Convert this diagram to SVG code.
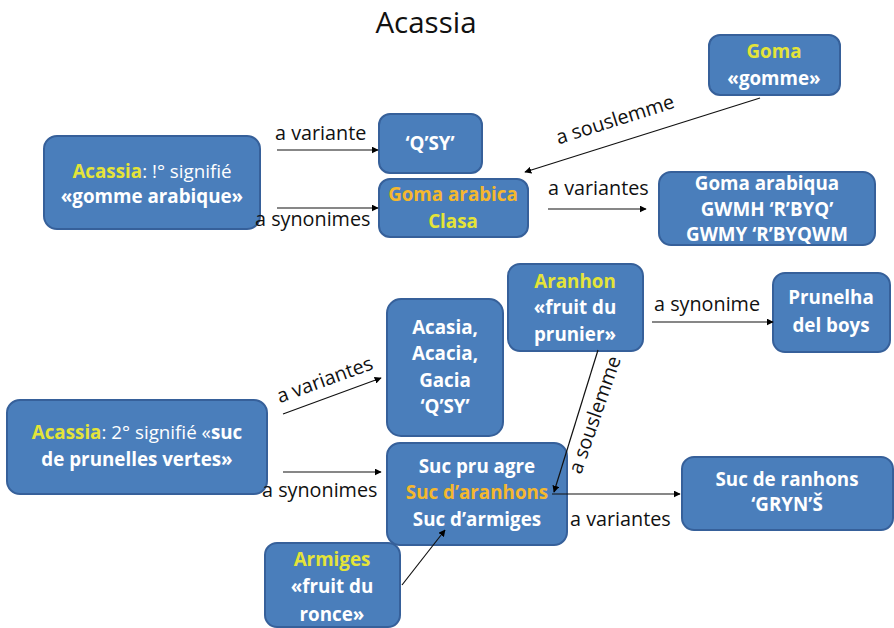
<svg xmlns="http://www.w3.org/2000/svg" width="894" height="628" viewBox="0 0 894 628">
<defs>
<marker id="ah" viewBox="0 0 10 10" refX="9" refY="5" markerWidth="7" markerHeight="7" markerUnits="userSpaceOnUse" orient="auto">
<path d="M0,0 L10,5 L0,10 z" fill="#000"/>
</marker>
</defs>
<style>
.box{fill:#4A7EBB;stroke:#36609A;stroke-width:2}
.t{font-family:"Open Sans","Noto Sans","Liberation Sans",sans-serif;font-size:18.8px;font-weight:bold;fill:#fff;text-anchor:middle}
.n{font-weight:normal}
.y{fill:#E4E438}
.o{fill:#F5B82E}
.lbl{font-family:"Open Sans","Noto Sans","Liberation Sans",sans-serif;font-size:19.8px;fill:#111}
.c{stroke:#111;stroke-width:1.2;fill:none;marker-end:url(#ah)}
.title{font-family:"Open Sans","Noto Sans","Liberation Sans",sans-serif;font-size:29.5px;fill:#111;text-anchor:middle}
</style>
<rect width="894" height="628" fill="#fff"/>
<text class="title" x="426" y="33">Acassia</text>

<g id="n-acassia1">
<rect class="box" x="44" y="136" width="216" height="93" rx="13"/>
<text class="t" x="152" y="178"><tspan class="y">Acassia</tspan><tspan class="n">: !° signifié</tspan></text>
<text class="t" x="152" y="203">«gomme arabique»</text>
</g>
<g id="n-qsy">
<rect class="box" x="379" y="114" width="103" height="59" rx="11"/>
<text class="t" x="430" y="150">‘Q’SY’</text>
</g>
<g id="n-goma-arabica">
<rect class="box" x="379" y="179" width="149" height="58" rx="11"/>
<text class="t o" x="453" y="201">Goma arabica</text>
<text class="t y" x="453" y="228">Clasa</text>
</g>
<g id="n-goma">
<rect class="box" x="709" y="35" width="131" height="60" rx="11"/>
<text class="t y" x="774" y="58">Goma</text>
<text class="t" x="774" y="85">«gomme»</text>
</g>
<g id="n-goma-arabiqua">
<rect class="box" x="659" y="172" width="216" height="73" rx="12"/>
<text class="t" x="767" y="190">Goma arabiqua</text>
<text class="t" x="767" y="216">GWMH ‘R’BYQ’</text>
<text class="t" x="767" y="241">GWMY ‘R’BYQWM</text>
</g>
<g id="n-acassia2">
<rect class="box" x="7" y="400" width="260" height="94" rx="13"/>
<text class="t" x="137" y="439"><tspan class="y">Acassia</tspan><tspan class="n">: 2° signifié «</tspan>suc</text>
<text class="t" x="137" y="466">de prunelles vertes»</text>
</g>
<g id="n-acasia">
<rect class="box" x="387" y="299" width="116" height="137" rx="14"/>
<text class="t" x="445" y="334">Acasia,</text>
<text class="t" x="445" y="360">Acacia,</text>
<text class="t" x="445" y="387">Gacia</text>
<text class="t" x="445" y="413">‘Q’SY’</text>
</g>
<g id="n-aranhon">
<rect class="box" x="508" y="264" width="135" height="87" rx="12"/>
<text class="t y" x="575" y="288">Aranhon</text>
<text class="t" x="575" y="314">«fruit du</text>
<text class="t" x="575" y="341">prunier»</text>
</g>
<g id="n-prunelha">
<rect class="box" x="773" y="273" width="117" height="79" rx="12"/>
<text class="t" x="831" y="304">Prunelha</text>
<text class="t" x="831" y="332">del boys</text>
</g>
<g id="n-suc">
<rect class="box" x="387" y="443" width="180" height="102" rx="13"/>
<text class="t" x="477" y="473">Suc pru agre</text>
<text class="t o" x="477" y="499">Suc d’aranhons</text>
<text class="t" x="477" y="526">Suc d’armiges</text>
</g>
<g id="n-armiges">
<rect class="box" x="265" y="543" width="135" height="84" rx="12"/>
<text class="t y" x="332" y="566">Armiges</text>
<text class="t" x="332" y="593">«fruit du</text>
<text class="t" x="332" y="621">ronce»</text>
</g>
<g id="n-ranhons">
<rect class="box" x="682" y="457" width="211" height="73" rx="12"/>
<text class="t" x="787" y="486">Suc de ranhons</text>
<text class="t" x="787" y="511">‘GRYN’Š</text>
</g>

<g id="connectors">
<line class="c" x1="277" y1="150" x2="378" y2="150"/>
<text class="lbl" x="275" y="140">a variante</text>
<line class="c" x1="277" y1="208" x2="378" y2="208"/>
<text class="lbl" x="255" y="226">a synonimes</text>
<line class="c" x1="760" y1="98" x2="525" y2="172"/>
<text class="lbl" transform="translate(617,126) rotate(-17.5)" text-anchor="middle">a souslemme</text>
<line class="c" x1="548" y1="209" x2="646" y2="209"/>
<text class="lbl" x="548" y="195">a variantes</text>

<line class="c" x1="283" y1="414" x2="381" y2="378"/>
<text class="lbl" transform="translate(327,386) rotate(-20)" text-anchor="middle">a variantes</text>
<line class="c" x1="283" y1="472" x2="381" y2="472"/>
<text class="lbl" x="262" y="497">a synonimes</text>
<line class="c" x1="652" y1="322" x2="773" y2="322"/>
<text class="lbl" x="654" y="311">a synonime</text>
<line class="c" x1="598" y1="350" x2="554" y2="492"/>
<text class="lbl" transform="translate(601,417) rotate(-71)" text-anchor="middle">a souslemme</text>
<line class="c" x1="402" y1="585" x2="445" y2="530"/>
<line class="c" x1="552" y1="494" x2="680" y2="494"/>
<text class="lbl" x="570" y="526">a variantes</text>
</g>
</svg>
